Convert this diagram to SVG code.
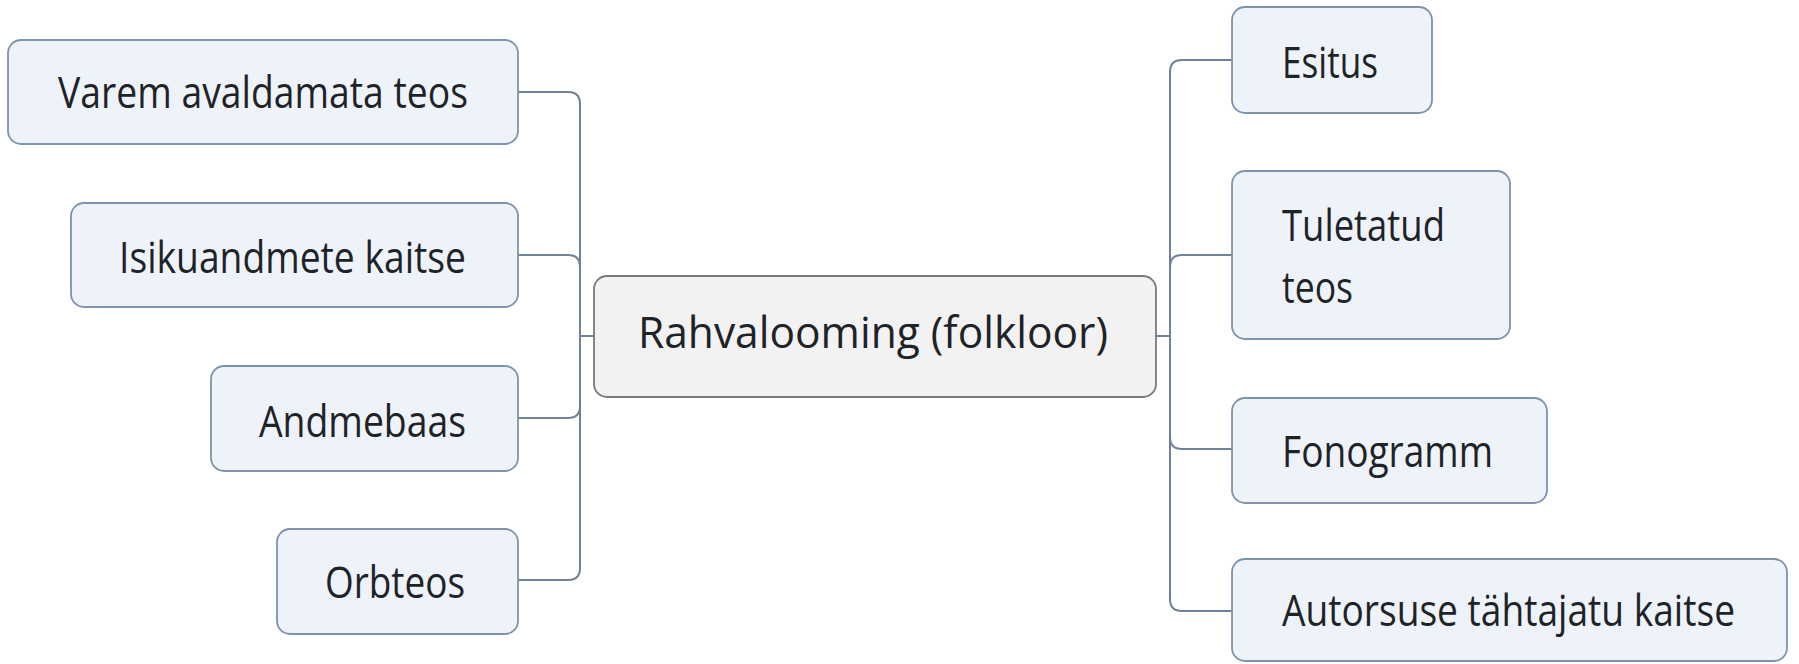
<svg xmlns="http://www.w3.org/2000/svg" width="1799" height="664" viewBox="0 0 1799 664">
<style>
.node rect{fill:#eef3fa;stroke:#7f93ab;stroke-width:1.8}
.root rect{fill:#f2f2f2;stroke:#7a7a7a;stroke-width:1.8}
text{font-family:"Open Sans","Noto Sans","DejaVu Sans",sans-serif;font-size:44px;fill:#1e2328}
.conn path{fill:none;stroke:#6f8299;stroke-width:2}
</style>
<rect width="1799" height="664" fill="#ffffff"/>
<g class="conn" id="connectors">
<path d="M518,92 H568 Q580,92 580,104 V568 Q580,580 568,580 H518"/>
<path d="M518,255 H568 Q580,255 580,267"/>
<path d="M518,418 H568 Q580,418 580,406"/>
<path d="M580,336 H594"/>
<path d="M1156,336 H1170"/>
<path d="M1232,60 H1182 Q1170,60 1170,72 V599 Q1170,611 1182,611 H1232"/>
<path d="M1232,255 H1182 Q1170,255 1170,267"/>
<path d="M1232,449 H1182 Q1170,449 1170,437"/>
</g>
<g id="root" class="root">
<rect x="594" y="276" width="562" height="121" rx="13"/>
<text x="638" y="348" textLength="470" lengthAdjust="spacingAndGlyphs">Rahvalooming (folkloor)</text>
</g>
<g id="n-varem" class="node">
<rect x="8" y="40" width="510" height="104" rx="13"/>
<text x="58" y="108" textLength="410" lengthAdjust="spacingAndGlyphs">Varem avaldamata teos</text>
</g>
<g id="n-isiku" class="node">
<rect x="71" y="203" width="447" height="104" rx="13"/>
<text x="119" y="273" textLength="347" lengthAdjust="spacingAndGlyphs">Isikuandmete kaitse</text>
</g>
<g id="n-andmebaas" class="node">
<rect x="211" y="366" width="307" height="105" rx="13"/>
<text x="259" y="437" textLength="207" lengthAdjust="spacingAndGlyphs">Andmebaas</text>
</g>
<g id="n-orbteos" class="node">
<rect x="277" y="529" width="241" height="105" rx="13"/>
<text x="325" y="598" textLength="140" lengthAdjust="spacingAndGlyphs">Orbteos</text>
</g>
<g id="n-esitus" class="node">
<rect x="1232" y="7" width="200" height="106" rx="13"/>
<text x="1282" y="78" textLength="96" lengthAdjust="spacingAndGlyphs">Esitus</text>
</g>
<g id="n-tuletatud" class="node">
<rect x="1232" y="171" width="278" height="168" rx="13"/>
<text x="1282" y="241" textLength="163" lengthAdjust="spacingAndGlyphs">Tuletatud</text>
<text x="1282" y="303" textLength="71" lengthAdjust="spacingAndGlyphs">teos</text>
</g>
<g id="n-fonogramm" class="node">
<rect x="1232" y="398" width="315" height="105" rx="13"/>
<text x="1282" y="467" textLength="211" lengthAdjust="spacingAndGlyphs">Fonogramm</text>
</g>
<g id="n-autorsuse" class="node">
<rect x="1232" y="559" width="555" height="102" rx="13"/>
<text x="1282" y="626" textLength="453" lengthAdjust="spacingAndGlyphs">Autorsuse tähtajatu kaitse</text>
</g>
</svg>
